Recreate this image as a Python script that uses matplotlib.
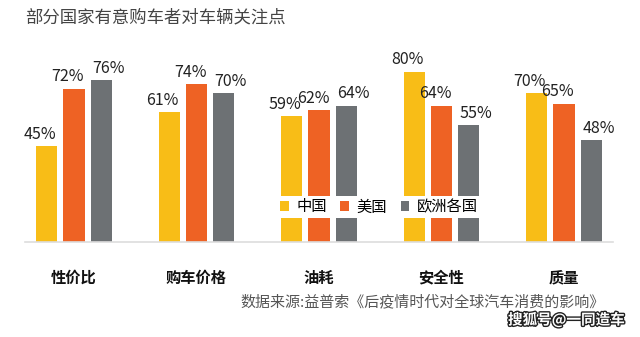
import matplotlib
matplotlib.use("Agg")
import matplotlib.pyplot as plt
import matplotlib.patheffects as pe
from matplotlib.patches import Patch
import numpy as np

plt.rcParams['font.family'] = ['Noto Sans CJK SC', 'DejaVu Sans']

categories = ["性价比", "购车价格", "油耗", "安全性", "质量"]
series_names = ["中国", "美国", "欧洲各国"]
china = [45, 61, 59, 80, 70]
usa = [72, 74, 62, 64, 65]
europe = [76, 70, 64, 55, 48]

colors = ["#F8BD17", "#EE6224", "#6D7174"]

fig = plt.figure(figsize=(6.4, 3.37), dpi=100)
ax = fig.add_axes([25 / 640, 95 / 337, 588 / 640, 213 / 337])

x = np.arange(len(categories))
width = 0.172
step = 0.221
# small horizontal nudges for the value labels, per series
label_shift = [-0.06, -0.05, 0.06]

for i, (vals, color) in enumerate(zip([china, usa, europe], colors)):
    pos = x + (i - 1) * step
    ax.bar(pos, vals, width=width, color=color, zorder=2)
    for p, v in zip(pos, vals):
        ax.text(p + label_shift[i], v + 1.5, f"{v}%", ha="center", va="bottom",
                fontsize=11.5, color="#222222")

ax.set_xlim(-0.4, 4.4)
ax.set_ylim(0, 100)
for side in ["top", "right", "left"]:
    ax.spines[side].set_visible(False)
ax.spines["bottom"].set_color("#dddddd")
ax.spines["bottom"].set_linewidth(1.2)
ax.set_yticks([])
ax.set_xticks(x)
ax.set_xticklabels(categories, fontsize=11, fontweight="bold", color="#111111")
ax.tick_params(axis="x", length=0, pad=20)

handles = [Patch(facecolor=c, edgecolor="none") for c in colors]
leg = fig.legend(handles, series_names, loc="center", bbox_to_anchor=(379 / 640, 1 - 207 / 337),
                 ncol=3, frameon=True, fontsize=11, handlelength=0.55, handleheight=0.55,
                 handletextpad=0.5, columnspacing=0.9, borderpad=0.15, fancybox=False)
leg.get_frame().set_facecolor("white")
leg.get_frame().set_edgecolor("none")
leg.get_frame().set_alpha(1.0)
leg.set_zorder(5)

fig.text(25 / 640, 1 - 17 / 337, "部分国家有意购车者对车辆关注点", fontsize=12.5,
         color="#444444", va="center", ha="left")
fig.text(605 / 640, 1 - 302 / 337, "数据来源:益普索《后疫情时代对全球汽车消费的影响》",
         fontsize=10.8, color="#555555", va="center", ha="right")
fig.text(625 / 640, 1 - 320 / 337, "搜狐号@一同造车", fontsize=10.5, color="white",
         fontweight="bold", va="center", ha="right",
         path_effects=[pe.withStroke(linewidth=2, foreground="#222222")])

fig.savefig("out.png", dpi=100, facecolor="white")
